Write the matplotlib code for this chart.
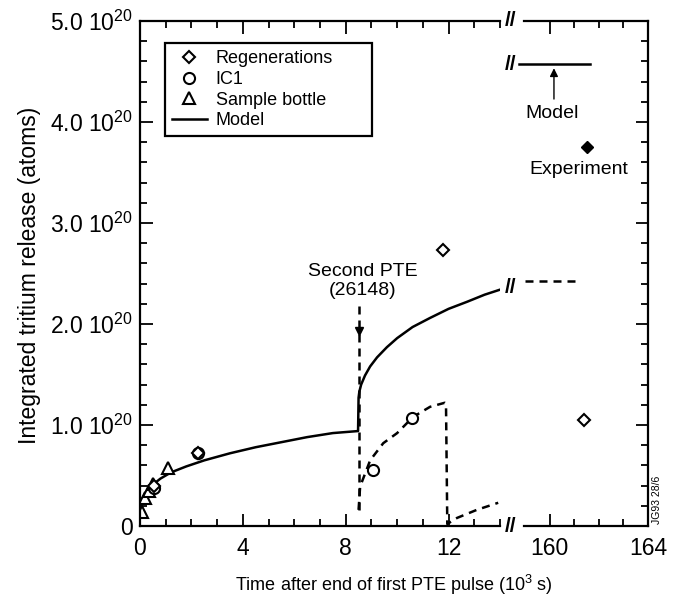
import matplotlib
matplotlib.use('Agg')
import matplotlib.pyplot as plt
from matplotlib.lines import Line2D

plt.rcParams['font.family'] = 'Liberation Sans'
plt.rcParams['mathtext.fontset'] = 'custom'
plt.rcParams['mathtext.rm'] = 'Liberation Sans'
plt.rcParams['mathtext.it'] = 'Liberation Sans:italic'

# Time in 10^3 s, release in 10^20 atoms
# Model (solid), first pulse then jump at second PTE
model_t = [0.0, 0.05, 0.15, 0.3, 0.5, 0.8, 1.2, 1.8, 2.5, 3.5, 4.5, 5.5, 6.5, 7.5, 8.48,
           8.5, 8.53, 8.6, 8.75, 8.95, 9.22, 9.6, 10.0, 10.6, 11.28, 12.0, 12.72, 13.4, 14.0]
model_y = [0.12, 0.2, 0.28, 0.35, 0.41, 0.47, 0.53, 0.59, 0.65, 0.72, 0.78, 0.83, 0.88, 0.92, 0.94,
           1.27, 1.33, 1.40, 1.49, 1.58, 1.67, 1.77, 1.86, 1.97, 2.06, 2.15, 2.22, 2.29, 2.34]

# IC1 model (dashed)
ic1_model_t = [8.5, 8.56, 8.95, 9.46, 10.0, 10.62, 11.28, 11.85, 11.9, 11.95, 12.33, 13.1, 13.93]
ic1_model_y = [0.16, 0.39, 0.65, 0.82, 0.92, 1.08, 1.18, 1.22, 1.21, 0.02, 0.08, 0.16, 0.23]

# measurements
regen_t = [0.55, 2.26, 11.8]
regen_y = [0.40, 0.72, 2.73]
ic1_t = [0.55, 2.26, 9.07, 10.58]
ic1_y = [0.38, 0.72, 0.55, 1.07]
bottle_t = [0.08, 0.2, 0.35, 0.5, 1.09]
bottle_y = [0.14, 0.28, 0.35, 0.42, 0.57]

# late time segment
late_regen_t = [161.4]
late_regen_y = [1.05]
late_exp_t = [161.5]
late_exp_y = [3.75]
late_model_t = [158.75, 161.65]
late_model_y = [4.57, 4.57]
late_ic1_model_t = [159.0, 161.15]
late_ic1_model_y = [2.43, 2.43]

pte_time = 8.5

yticks = [0, 1, 2, 3, 4, 5]
ylabels = ['0', '1.0 10$^{20}$', '2.0 10$^{20}$', '3.0 10$^{20}$', '4.0 10$^{20}$', '5.0 10$^{20}$']

fig = plt.figure(figsize=(6.89, 6.04), dpi=100)
W, H = 689.0, 604.0
ax1 = fig.add_axes([140 / W, (H - 526) / H, (500 - 140) / W, (526 - 21) / H])
ax2 = fig.add_axes([524 / W, (H - 526) / H, (648 - 524) / W, (526 - 21) / H])

lw = 1.8
dash = (3.2, 2.4)
mk = dict(markerfacecolor='white', markeredgecolor='black', markeredgewidth=1.5, linestyle='none')

# left segment
ax1.plot(model_t, model_y, color='black', lw=lw)
ax1.plot(ic1_model_t, ic1_model_y, color='black', lw=lw, dashes=dash)
ax1.plot([pte_time, pte_time], [2.18, 0.16], color='black', lw=lw, dashes=dash)
ax1.plot([pte_time], [1.93], marker='v', color='black', markersize=6)
ax1.plot(bottle_t, bottle_y, marker='^', markersize=9, **mk)
ax1.plot(ic1_t, ic1_y, marker='o', markersize=8, **mk)
ax1.plot(regen_t, regen_y, marker='D', markersize=6, **mk)
ax1.text(pte_time + 0.15, 2.43, 'Second PTE\n(26148)', ha='center', va='center', fontsize=14,
         linespacing=1.15)

# right segment
ax2.plot(late_model_t, late_model_y, color='black', lw=lw, clip_on=False)
ax2.plot(late_ic1_model_t, late_ic1_model_y, color='black', lw=lw, dashes=dash)
ax2.plot(late_regen_t, late_regen_y, marker='D', markersize=6, **mk)
ax2.plot(late_exp_t, late_exp_y, marker='D', markersize=6, color='black', linestyle='none')
ax2.annotate('', xy=(160.17, 4.56), xytext=(160.17, 4.2),
             arrowprops=dict(arrowstyle='-|>', color='black', lw=1.0, mutation_scale=12))
ax2.text(160.1, 4.08, 'Model', ha='center', va='center', fontsize=14)
ax2.text(161.2, 3.53, 'Experiment', ha='center', va='center', fontsize=14)

# break marks
for yb in [0.0, 5.0, 2.36, 4.57]:
    ax2.text(158.4, yb, '//', ha='center', va='center', fontsize=15, fontweight='bold',
             clip_on=False)

# axes styling
ax1.set_xlim(0, 14.0)
ax2.set_xlim(158.95, 164)
for ax in (ax1, ax2):
    ax.set_ylim(0, 5)
    for s in ax.spines.values():
        s.set_linewidth(1.6)
ax1.spines['right'].set_visible(False)
ax2.spines['left'].set_visible(False)

ax1.set_xticks([0, 4, 8, 12])
ax1.set_xticks(range(0, 15), minor=True)
ax2.set_xticks([160, 164])
ax2.set_xticks([161, 162, 163], minor=True)
ax1.set_yticks(yticks)
ax1.set_yticklabels(ylabels)
ax1.set_yticks([i * 0.2 for i in range(26)], minor=True)
ax2.set_yticks(yticks)
ax2.set_yticks([i * 0.2 for i in range(26)], minor=True)

ax1.tick_params(which='both', direction='in', top=True, right=False, labelsize=16.5, width=1.3)
ax2.tick_params(which='both', direction='in', top=True, left=False, right=True,
                labelleft=False, labelsize=16.5, width=1.3)
for ax in (ax1, ax2):
    ax.tick_params(which='major', length=9)
    ax.tick_params(which='minor', length=5)
    ax.tick_params(axis='x', which='major', pad=8)
ax1.tick_params(axis='y', which='major', pad=5)

# legend
handles = [
    Line2D([], [], marker='D', markersize=6, **mk),
    Line2D([], [], marker='o', markersize=8, **mk),
    Line2D([], [], marker='^', markersize=9, **mk),
    Line2D([], [], color='black', lw=lw),
]
labels = ['Regenerations', 'IC1', 'Sample bottle', 'Model']
x0 = (165 - 140) / 360.0
w0 = (372 - 165) / 360.0
leg = ax1.legend(handles, labels, loc='upper left', bbox_to_anchor=(x0, 0.956, w0, 0.0),
                 mode='expand', borderaxespad=0, fontsize=13, labelspacing=0.2,
                 handlelength=1.9, handletextpad=0.5, borderpad=0.4, fancybox=False,
                 framealpha=1, edgecolor='black')
leg.get_frame().set_linewidth(1.6)

fig.text(394 / W, 1 - 585 / H, 'Time after end of first PTE pulse (10$^3$ s)',
         ha='center', va='center', fontsize=13)
fig.text(30 / W, 1 - 275 / H, 'Integrated tritium release (atoms)', rotation=90,
         ha='center', va='center', fontsize=16.5)
fig.text(657 / W, 1 - 500 / H, 'JG93 28/6', rotation=90, ha='center', va='center', fontsize=7.5)

fig.savefig('out.png', dpi=100)
